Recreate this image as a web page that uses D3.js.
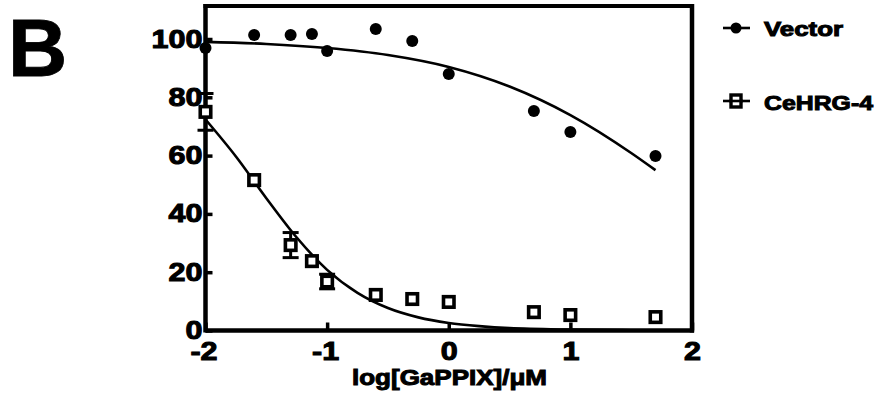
<!DOCTYPE html>
<html>
<head>
<meta charset="utf-8">
<script src="https://cdn.jsdelivr.net/npm/d3@7"></script>
<style>
  html, body { margin: 0; padding: 0; background: #fff; }
  svg { display: block; }
  text { font-family: "Liberation Sans", Arial, sans-serif; font-weight: bold; fill: #000; }
</style>
</head>
<body>
<svg id="chart" width="882" height="413"></svg>
<script>
// log10 of GaPPIX concentration (µM)
const logConc = [-2, -1.6, -1.3, -1.125, -1, -0.6, -0.3, 0, 0.7, 1, 1.7];

// % survival
const vectorValues = [96.9, 101.4, 101.4, 101.7, 95.9, 103.4, 99.3, 88.0, 75.3, 68.1, 59.9];
const cehrgValues  = [75.0, 51.6, 29.3, 23.8, 16.8, 12.2, 10.8, 9.8, 6.3, 5.3, 4.6];
const cehrgErrors  = [6.3, 0, 4.3, 0, 2.5, 0, 0, 0, 0, 0, 0];

// fitted dose-response curves, sampled along the x axis
const vectorCurveX = [-2, -1.5, -1, -0.5, 0, 0.5, 1, 1.5, 1.7];
const vectorCurveY = [99.0, 98.3, 96.9, 94.5, 90.4, 83.7, 73.9, 60.9, 55.0];
const cehrgCurveX  = [-2, -1.75, -1.5, -1.25, -1, -0.75, -0.5, -0.25, 0, 0.25, 0.5, 1, 1.5, 1.7];
const cehrgCurveY  = [72.4, 59.7, 45.4, 31.9, 20.8, 12.9, 7.7, 4.5, 2.6, 1.5, 0.8, 0.3, 0.1, 0.05];

const xTicks = [-2, -1, 0, 1, 2];
const yTicks = [0, 20, 40, 60, 80, 100];
const seriesNames = ["Vector", "CeHRG-4"];
const xTitle = "log[GaPPIX]/\u03bcM";
const panelLabel = "B";

const svg = d3.select("#chart");

const x = d3.scaleLinear().domain([-2, 2]).range([205.5, 692]);
const y = d3.scaleLinear().domain([0, 100]).range([330.5, 39]);
const yTop = 111.3;

// widen a text element horizontally
function stretch(sel, k) {
  sel.each(function () {
    const w = this.getComputedTextLength();
    d3.select(this).attr("textLength", w * k).attr("lengthAdjust", "spacingAndGlyphs");
  });
}

// panel letter
svg.append("text").attr("x", 8).attr("y", 76)
  .style("font-size", "82px").attr("stroke", "#000").attr("stroke-width", 0.8).text(panelLabel);

// axes with inward ticks; plain hyphen for negatives
const fmt = d => String(d);
const gx = svg.append("g").attr("transform", `translate(0,${y(0)})`)
  .call(d3.axisBottom(x).tickValues(xTicks).tickFormat(fmt)
    .tickSize(-8).tickSizeOuter(0).tickPadding(11.5));
const gy = svg.append("g").attr("transform", `translate(${x(-2)},0)`)
  .call(d3.axisLeft(y).tickValues(yTicks).tickFormat(fmt).tickSize(-7).tickSizeOuter(0).tickPadding(3));

[gx, gy].forEach(g => {
  g.select(".domain").remove();
  g.selectAll(".tick line").attr("stroke", "#000").attr("stroke-width", 3.5);
  g.selectAll(".tick text")
    .style("font-size", "25px").style("font-family", "Liberation Sans, Arial, sans-serif")
    .style("font-weight", "bold").attr("fill", "#000")
    .attr("stroke", "#000").attr("stroke-width", 1);
  stretch(g.selectAll(".tick text"), 1.22);
});
gx.selectAll(".tick text").attr("dx", function (d) { return d < 0 ? "-0.08em" : 0; });

// frame
const frame = svg.append("g").attr("fill", "none").attr("stroke", "#000");
frame.append("line").attr("x1", x(-2)).attr("x2", x(2) + 2).attr("y1", y(0)).attr("y2", y(0)).attr("stroke-width", 4.5);
frame.append("line").attr("x1", x(-2)).attr("x2", x(-2)).attr("y1", y(yTop) - 2).attr("y2", y(0) + 2).attr("stroke-width", 4.5);
frame.append("line").attr("x1", x(-2) - 2).attr("x2", x(2) + 2).attr("y1", y(yTop)).attr("y2", y(yTop)).attr("stroke-width", 4);
frame.append("line").attr("x1", x(2)).attr("x2", x(2)).attr("y1", y(yTop) - 2).attr("y2", y(0) + 2).attr("stroke-width", 4.5);

// fitted curves
const line = d3.line().x(d => x(d[0])).y(d => y(d[1])).curve(d3.curveMonotoneX);
svg.append("path").datum(d3.zip(vectorCurveX, vectorCurveY))
  .attr("d", line).attr("fill", "none").attr("stroke", "#000").attr("stroke-width", 2.6);
svg.append("path").datum(d3.zip(cehrgCurveX, cehrgCurveY))
  .attr("d", line).attr("fill", "none").attr("stroke", "#000").attr("stroke-width", 2.6);

// error bars
const cehrg = logConc.map((c, i) => ({ c, v: cehrgValues[i], e: cehrgErrors[i] }));
const eb = svg.append("g").attr("stroke", "#000").attr("stroke-width", 3);
cehrg.filter(d => d.e > 0).forEach(d => {
  eb.append("line").attr("x1", x(d.c)).attr("x2", x(d.c)).attr("y1", y(d.v - d.e)).attr("y2", y(d.v + d.e));
  [d.v - d.e, d.v + d.e].forEach(v =>
    eb.append("line").attr("x1", x(d.c) - 8).attr("x2", x(d.c) + 8).attr("y1", y(v)).attr("y2", y(v)));
});

// Vector points
svg.append("g").selectAll("circle")
  .data(logConc.map((c, i) => ({ c, v: vectorValues[i] })))
  .join("circle")
  .attr("cx", d => x(d.c)).attr("cy", d => y(d.v)).attr("r", 6).attr("fill", "#000");

// CeHRG-4 points
const sq = 10.5;
svg.append("g").selectAll("rect").data(cehrg).join("rect")
  .attr("x", d => x(d.c) - sq / 2).attr("y", d => y(d.v) - sq / 2)
  .attr("width", sq).attr("height", sq)
  .attr("fill", "#fff").attr("stroke", "#000").attr("stroke-width", 3.6);

// legend
const lg = svg.append("g");
lg.append("line").attr("x1", 723).attr("x2", 750).attr("y1", 28).attr("y2", 28).attr("stroke", "#000").attr("stroke-width", 2.6);
lg.append("circle").attr("cx", 736).attr("cy", 28).attr("r", 5.5).attr("fill", "#000");
lg.append("line").attr("x1", 723).attr("x2", 750).attr("y1", 101).attr("y2", 101).attr("stroke", "#000").attr("stroke-width", 2.6);
lg.append("rect").attr("x", 736 - 5).attr("y", 101 - 6).attr("width", 10).attr("height", 12)
  .attr("fill", "#fff").attr("stroke", "#000").attr("stroke-width", 3.4);
lg.append("line").attr("x1", 729).attr("x2", 743).attr("y1", 101).attr("y2", 101).attr("stroke", "#000").attr("stroke-width", 2.6);

lg.append("text").attr("x", 764).attr("y", 36).style("font-size", "20px")
  .attr("stroke", "#000").attr("stroke-width", 1)
  .attr("textLength", 79).attr("lengthAdjust", "spacingAndGlyphs").text(seriesNames[0]);
lg.append("text").attr("x", 764).attr("y", 110).style("font-size", "21px")
  .attr("stroke", "#000").attr("stroke-width", 1)
  .attr("textLength", 109).attr("lengthAdjust", "spacingAndGlyphs").text(seriesNames[1]);

// x axis title
svg.append("text").attr("x", 352).attr("y", 385).style("font-size", "22px")
  .attr("stroke", "#000").attr("stroke-width", 1)
  .attr("textLength", 195).attr("lengthAdjust", "spacingAndGlyphs")
  .text(xTitle);
</script>
</body>
</html>
